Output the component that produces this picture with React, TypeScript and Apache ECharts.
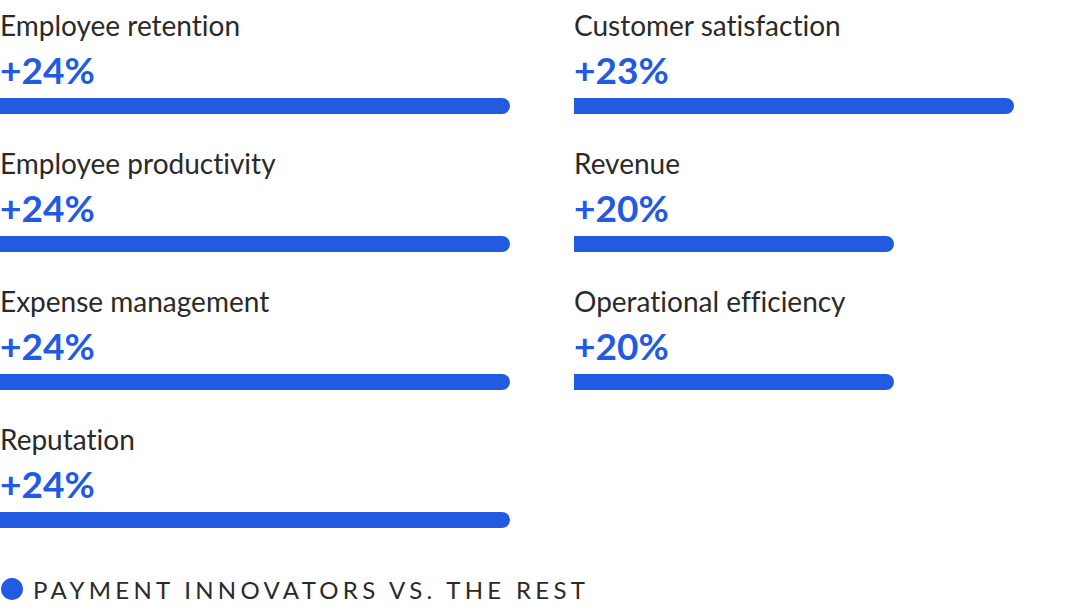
import React, { useEffect, useRef } from "react";
import * as echarts from "echarts";

const leftCategories = ["Employee retention", "Employee productivity", "Expense management", "Reputation"];
const leftValues = [24, 24, 24, 24];
const rightCategories = ["Customer satisfaction", "Revenue", "Operational efficiency"];
const rightValues = [23, 20, 20];
const seriesName = "PAYMENT INNOVATORS VS. THE REST";

const BLUE = "#235AE2";
const DARK = "#2a2a2a";

export default function App() {
  const ref = useRef<HTMLDivElement>(null);
  useEffect(() => {
    document.body.style.margin = "0";
    const chart = echarts.init(ref.current!, null, { renderer: "svg" });
    const label = {
      show: true,
      position: [0, -90],
      align: "left",
      verticalAlign: "top",
      formatter: (p: any) => `{t|${p.name}}\n{v|+${p.value}%}`,
      rich: {
        t: { fontFamily: "Lato", fontSize: 28, lineHeight: 34, color: DARK },
        v: { fontFamily: "Lato", fontSize: 37, fontWeight: "bold", lineHeight: 54, color: BLUE },
      },
    };
    const bar = {
      type: "bar",
      name: seriesName,
      barWidth: 16,
      itemStyle: { color: BLUE, borderRadius: [0, 8, 8, 0] },
      label,
    };
    chart.setOption({
      animation: false,
      grid: [
        { left: 0, top: 37, width: 510, height: 552 },
        { left: 574, top: 37, width: 440, height: 414 },
      ],
      xAxis: [
        { type: "value", gridIndex: 0, min: 0, max: 24, show: false },
        { type: "value", gridIndex: 1, min: 12, max: 23, show: false },
      ],
      yAxis: [
        { type: "category", gridIndex: 0, inverse: true, data: leftCategories, show: false },
        { type: "category", gridIndex: 1, inverse: true, data: rightCategories, show: false },
      ],
      legend: {
        left: 1,
        top: 577,
        padding: 0,
        icon: "circle",
        itemWidth: 22,
        itemHeight: 22,
        textStyle: { fontFamily: "Lato, sans-serif", fontSize: 24, color: DARK, padding: [0, 0, 0, 5] },
        data: [seriesName],
      },
      series: [
        { ...bar, xAxisIndex: 0, yAxisIndex: 0, data: leftValues },
        { ...bar, xAxisIndex: 1, yAxisIndex: 1, data: rightValues },
      ],
    });
    return () => chart.dispose();
  }, []);
  return (
    <>
      <style>{`#chart text { font-variant-ligatures: none; } #chart text[style*="sans-serif"], #chart text[font-family*="sans-serif"] { letter-spacing: 4.3px; }`}</style>
      <div id="chart" ref={ref} style={{ width: 1088, height: 612 }} />
    </>
  );
}
